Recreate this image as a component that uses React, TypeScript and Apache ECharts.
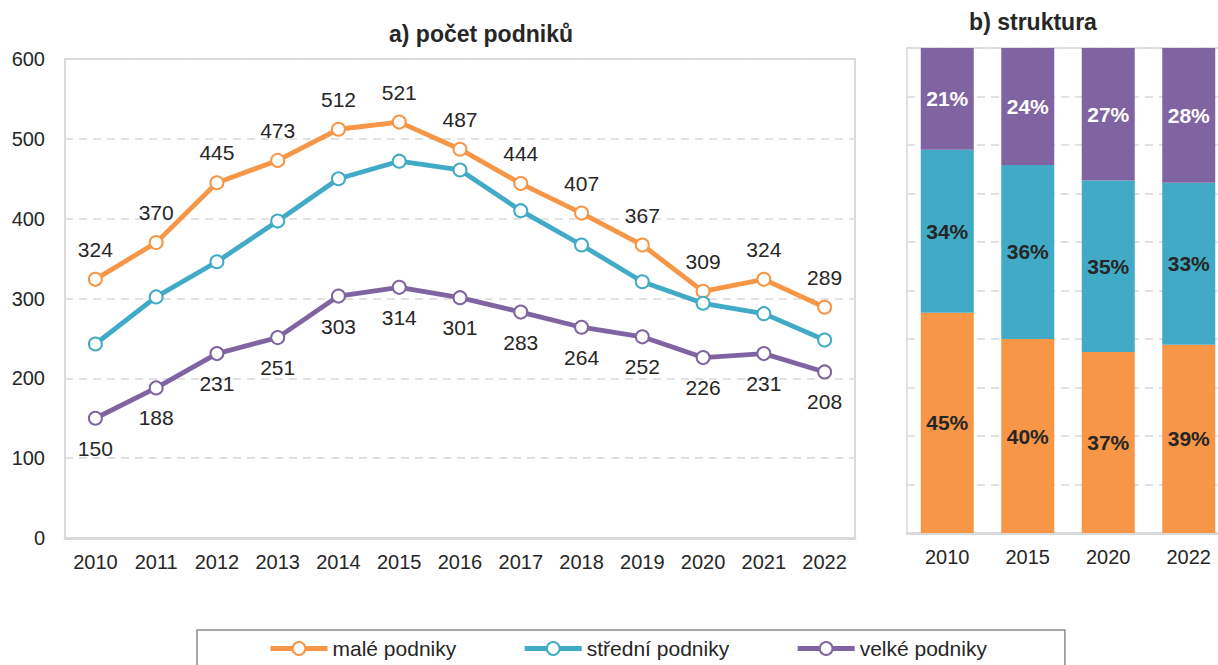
import React, { useEffect, useRef } from "react";
import * as echarts from "echarts";

const years = ["2010", "2011", "2012", "2013", "2014", "2015", "2016", "2017", "2018", "2019", "2020", "2021", "2022"];
const male = [324, 370, 445, 473, 512, 521, 487, 444, 407, 367, 309, 324, 289];
const stredni = [243, 302, 346, 397, 450, 472, 461, 410, 367, 321, 294, 281, 248];
const velke = [150, 188, 231, 251, 303, 314, 301, 283, 264, 252, 226, 231, 208];

const structYears = ["2010", "2015", "2020", "2022"];
const structMale = [45.4, 40.0, 37.3, 38.8];
const structStredni = [33.6, 35.9, 35.4, 33.4];
const structVelke = [21.0, 24.1, 27.3, 27.8];

const C_ORANGE = "#F79646";
const C_TEAL = "#41ABC7";
const C_PURPLE = "#8064A2";
const FONT = "Liberation Sans, Arial, sans-serif";
const TXT = "#262626";

export default function App() {
  const ref = useRef<HTMLDivElement>(null);
  useEffect(() => {
    if (!ref.current) return;
    const chart = echarts.init(ref.current, null, { renderer: "svg" });
    const lineSeries = (name: string, data: number[], color: string, labelPos: string | null) => ({
      name,
      type: "line",
      xAxisIndex: 0,
      yAxisIndex: 0,
      data,
      symbol: "circle",
      symbolSize: 13,
      lineStyle: { color, width: 4.8 },
      itemStyle: { color: "#ffffff", borderColor: color, borderWidth: 2 },
      label: labelPos
        ? { show: true, position: labelPos, distance: 12, fontSize: 21, color: TXT, fontFamily: FONT }
        : { show: false },
      z: 3,
    });
    const barSeries = (name: string, data: number[], color: string, labelColor: string) => ({
      name,
      type: "bar",
      stack: "s",
      xAxisIndex: 1,
      yAxisIndex: 1,
      data,
      barWidth: 53,
      itemStyle: { color },
      label: {
        show: true,
        position: "inside",
        formatter: (p: any) => Math.round(p.value) + "%",
        fontSize: 21,
        fontWeight: "bold",
        color: labelColor,
        fontFamily: FONT,
      },
    });
    const splitLine = { show: true, lineStyle: { color: "#d9d9d9", type: [8, 6], width: 1.5 } };
    const axisLabel = { fontSize: 20, color: TXT, margin: 14, fontFamily: FONT };
    chart.setOption({
      animation: false,
      textStyle: { fontFamily: FONT },
      title: [
        {
          text: "a) počet podniků",
          left: 476,
          top: 17,
          textAlign: "center",
          textStyle: { fontSize: 23, fontWeight: "bold", color: TXT, fontFamily: FONT },
        },
        {
          text: "b) struktura",
          left: 1028,
          top: 5,
          textAlign: "center",
          textStyle: { fontSize: 23, fontWeight: "bold", color: TXT, fontFamily: FONT },
        },
      ],
      legend: {
        data: ["malé podniky", "střední podniky", "velké podniky"],
        left: 197,
        top: 630,
        padding: [8, 78, 30, 71],
        itemGap: 66,
        itemWidth: 57,
        itemHeight: 16,
        borderColor: "#8c8c8c",
        borderWidth: 1.5,
        lineStyle: { width: 5 },
        textStyle: { fontSize: 21, color: TXT, fontFamily: FONT },
      },
      grid: [
        { left: 65, top: 59, width: 790, height: 479, show: true, borderColor: "#cfcfcf", borderWidth: 1.5 },
        { left: 907, top: 48, width: 322, height: 485, show: true, borderColor: "#d9d9d9", borderWidth: 1.5 },
      ],
      xAxis: [
        {
          type: "category",
          gridIndex: 0,
          data: years,
          boundaryGap: true,
          axisTick: { show: false },
          axisLine: { show: true, lineStyle: { color: "#d9d9d9", width: 3 } },
          axisLabel,
        },
        {
          type: "category",
          gridIndex: 1,
          data: structYears,
          boundaryGap: true,
          axisTick: { show: false },
          axisLine: { show: true, lineStyle: { color: "#d9d9d9", width: 3 } },
          axisLabel,
        },
      ],
      yAxis: [
        {
          type: "value",
          gridIndex: 0,
          min: 0,
          max: 600,
          interval: 100,
          axisLine: { show: false },
          axisTick: { show: false },
          axisLabel: { ...axisLabel, margin: 20 },
          splitLine,
        },
        {
          type: "value",
          gridIndex: 1,
          min: 0,
          max: 100,
          interval: 10,
          axisLine: { show: false },
          axisTick: { show: false },
          axisLabel: { show: false },
          splitLine,
        },
      ],
      series: [
        lineSeries("malé podniky", male, C_ORANGE, "top"),
        lineSeries("střední podniky", stredni, C_TEAL, null),
        lineSeries("velké podniky", velke, C_PURPLE, "bottom"),
        barSeries("malé podniky", structMale, C_ORANGE, TXT),
        barSeries("střední podniky", structStredni, C_TEAL, TXT),
        barSeries("velké podniky", structVelke, C_PURPLE, "#ffffff"),
      ],
    });
    return () => chart.dispose();
  }, []);
  return (
    <div style={{ position: "absolute", left: 0, top: 0, width: 1218, height: 665, overflow: "hidden" }}>
      <div ref={ref} style={{ width: 1250, height: 665 }} />
    </div>
  );
}
